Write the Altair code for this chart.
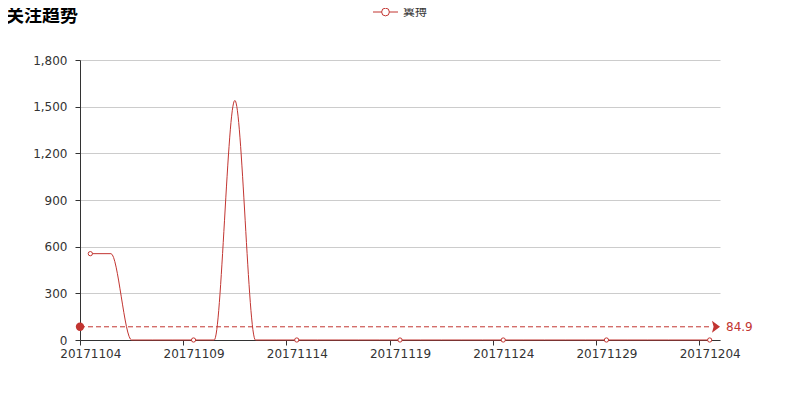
import altair as alt
import pandas as pd

TITLE = "关注趋势"
SERIES = "翼搏"
DATES = ["20171104", "20171105", "20171106", "20171107", "20171108", "20171109",
         "20171110", "20171111", "20171112", "20171113", "20171114", "20171115",
         "20171116", "20171117", "20171118", "20171119", "20171120", "20171121",
         "20171122", "20171123", "20171124", "20171125", "20171126", "20171127",
         "20171128", "20171129", "20171130", "20171201", "20171202", "20171203",
         "20171204"]
VALUES = [555, 555, 0, 0, 0, 0, 0, 1540, 0, 0, 0, 0, 0, 0, 0, 0,
          0, 0, 0, 0, 0, 0, 0, 0, 0, 0, 0, 0, 0, 0, 0]
AVG = [84.9]
AVG_LABEL = ["84.9"]
Y_TICKS = [0, 300, 600, 900, 1200, 1500, 1800]
X_TICKS = [0, 5, 10, 15, 20, 25, 30]

RED = "#c23531"
TXT = "#333333"
FONT = "DejaVu Sans"
CJK = "Noto Sans CJK SC"

W, H = 640, 280
n = len(DATES)
band = W / n

df = pd.DataFrame({"date": DATES, "value": VALUES, "i": list(range(n))})
df["pos"] = df["i"] + 0.5

label_expr = "[" + ",".join(f"'{d}'" for d in DATES) + "][datum.value]"

xscale = alt.Scale(domain=[0, n], nice=False, zero=False)
yscale = alt.Scale(domain=[0, 1800], nice=False)

xaxis = alt.Axis(values=X_TICKS, labelExpr=label_expr, labelOffset=band / 2,
                 labelFlush=False, labelOverlap=False, grid=False, title=None,
                 domainColor=TXT, tickColor=TXT, tickSize=5, labelPadding=3,
                 labelColor=TXT, labelFont=FONT, labelFontSize=12)
yaxis = alt.Axis(values=Y_TICKS, format=",d", grid=True, gridColor="#cccccc",
                 title=None, domainColor=TXT, tickColor=TXT, tickSize=5,
                 labelPadding=8, labelColor=TXT, labelFont=FONT, labelFontSize=12)

base = alt.Chart(df)

line = base.mark_line(color=RED, strokeWidth=1, interpolate="monotone").encode(
    x=alt.X("pos:Q", scale=xscale, axis=xaxis),
    y=alt.Y("value:Q", scale=yscale, axis=yaxis),
)

pts = base.transform_filter("datum.i % 5 == 0").mark_point(
    filled=False, fill="white", fillOpacity=1, stroke=RED, strokeWidth=1,
    size=18, opacity=1
).encode(x="pos:Q", y="value:Q")

avg_df = pd.DataFrame({"avg": AVG, "label": AVG_LABEL})
avg_base = alt.Chart(avg_df)

avg_rule = avg_base.mark_rule(color=RED, strokeWidth=1, strokeDash=[5, 3]).encode(
    x=alt.value(0), x2=alt.value(W - 8), y="avg:Q")
avg_start = avg_base.mark_circle(color=RED, size=70, opacity=1).encode(
    x=alt.value(0), y="avg:Q")
avg_arrow = avg_base.mark_point(
    shape="M-0.67,-1L0.67,0L-0.67,1L-0.4,0Z", filled=True, color=RED,
    size=144, opacity=1).encode(x=alt.value(W - 4), y="avg:Q")
avg_text = avg_base.mark_text(align="left", baseline="middle", color=RED,
                              font=FONT, fontSize=12).encode(
    x=alt.value(W + 6), y="avg:Q", text="label:N")

title_df = pd.DataFrame({"t": [TITLE]})
title = alt.Chart(title_df).mark_text(
    align="left", baseline="middle", font=CJK, fontSize=18, fontWeight="bold",
    color="#000000").encode(x=alt.value(-74), y=alt.value(-43), text="t:N")

leg_df = pd.DataFrame({"s": [SERIES]})
leg_base = alt.Chart(leg_df)
leg_line = leg_base.mark_rule(color=RED, strokeWidth=1).encode(
    x=alt.value(293), x2=alt.value(318), y=alt.value(-48))
leg_pt = leg_base.mark_point(filled=False, fill="white", fillOpacity=1,
                             stroke=RED, strokeWidth=1, size=60, opacity=1).encode(
    x=alt.value(305.5), y=alt.value(-48))
leg_txt = leg_base.mark_text(align="left", baseline="middle", font=CJK,
                             fontSize=12, color=TXT).encode(
    x=alt.value(323), y=alt.value(-48), text="s:N")

chart = alt.layer(
    line, pts, avg_rule, avg_start, avg_arrow, avg_text,
    title, leg_line, leg_pt, leg_txt
).properties(
    width=W, height=H,
    background="white",
    autosize=alt.AutoSizeParams(type="none"),
    padding={"left": 72, "top": 52, "right": 72, "bottom": 52},
).configure_view(strokeWidth=0).configure_axisX(grid=False)

chart.save("out.html", embed_options={"renderer": "svg", "actions": False})
